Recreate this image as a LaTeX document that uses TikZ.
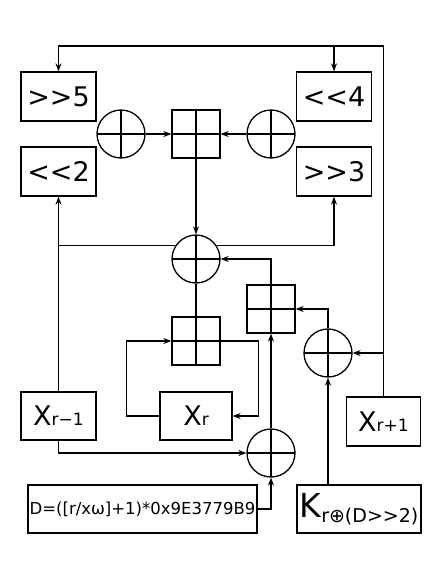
\documentclass[tikz,border=0pt]{standalone}
\usepackage{fontspec}
\setmainfont{DejaVu Sans}
\usetikzlibrary{arrows.meta,calc}

\tikzset{
  cross/.style={path picture={
    \draw[line width=1.3pt] (path picture bounding box.north) -- (path picture bounding box.south)
      (path picture bounding box.west) -- (path picture bounding box.east);}},
  xorc/.style={circle, draw, fill=white, minimum size=48pt, inner sep=0pt, cross},
  addb/.style={rectangle, draw, fill=white, minimum size=48pt, inner sep=0pt, cross},
  shiftbox/.style={rectangle, draw, minimum width=75pt, minimum height=49pt, inner sep=0pt,
    font=\fontsize{27}{28}\selectfont},
  wordbox/.style={rectangle, draw, minimum height=48pt, inner sep=0pt,
    font=\fontsize{27}{28}\selectfont},
  arr/.style={-{Stealth[length=8pt,width=6pt]}}
}

\begin{document}
\begin{tikzpicture}[x=1pt, y=-1pt, line width=1.3pt]
\useasboundingbox (0,0) rectangle (446,563);

% shift boxes
\node[shiftbox] (sr5) at (58.5,96.5) {>{}>5};
\node[shiftbox] (sl4) at (334,96.5) {<{}<4};
\node[shiftbox] (sl2) at (58.5,171.5) {<{}<2};
\node[shiftbox] (sr3) at (334,171.5) {>{}>3};

% mixing
\node[xorc] (xorL) at (121,134) {};
\node[addb] (addT) at (196,134) {};
\node[xorc] (xorR) at (271,134) {};
\node[xorc] (xorM) at (196,259) {};
\node[addb] (addS) at (271,309) {};
\node[addb] (addC) at (196,341) {};
\node[xorc] (xorK) at (328,353) {};
\node[xorc] (xorB) at (271,453) {};

% words
\node[wordbox, minimum width=75pt] (xrm) at (58.5,416) {X{\fontsize{17}{18}\selectfont r−1}};
\node[wordbox, minimum width=72pt] (xr) at (196,416) {X{\fontsize{17}{18}\selectfont r}};
\node[wordbox, minimum width=74pt, minimum height=49pt] (xrp) at (383.5,421.5) {X{\fontsize{17}{18}\selectfont r+1}};
\node[wordbox, minimum width=229pt, font=\fontsize{16.5}{18}\selectfont] (dbox) at (142.5,509)
  {D=([r/xω]+1)*0x9E3779B9};
\node[wordbox, minimum width=124pt, font=\fontsize{33}{34}\selectfont] (kbox) at (359,509)
  {K\raisebox{-5pt}{\fontsize{19}{20}\selectfont r⊕(D>{}>2)}};

% top feedback
\coordinate (tl) at (58.5,46);
\draw[arr] (xrp.north) |- (tl) -- (sr5.north);
\draw[arr] (sl4.north |- tl) -- (sl4.north);

\draw[arr] (xorL) -- (addT);
\draw[arr] (xorR) -- (addT);
\draw[arr] (addT) -- (xorM);

% X_{r-1} up to the shifts
\draw[arr] (xrm.north) -- (sl2.south);
\draw (sl2.south |- xorM.147) -- (xorM.147);
\draw[arr] (xorM.33) -| (sr3.south);

\draw[arr] (addS.north) |- (xorM.east);
\draw (xorM.south) -- (addC.north);

% loop round X_r
\draw[arr] (xr.west) -- ++(-33,0) |- (addC.west);
\draw[arr] (addC.east) -- ++(38,0) |- (xr.east);

\draw[arr] (xrm.south) |- (xorB.west);
\draw[arr] (dbox.east) -| (xorB.south);
\draw[arr] (xorB.north) -- (addS.south);

\draw[arr] (xorK.south |- kbox.north) -- (xorK.south);
\draw[arr] (xrp.north |- xorK.east) -- (xorK.east);
\draw[arr] (xorK.north) |- (addS.east);
\end{tikzpicture}
\end{document}
